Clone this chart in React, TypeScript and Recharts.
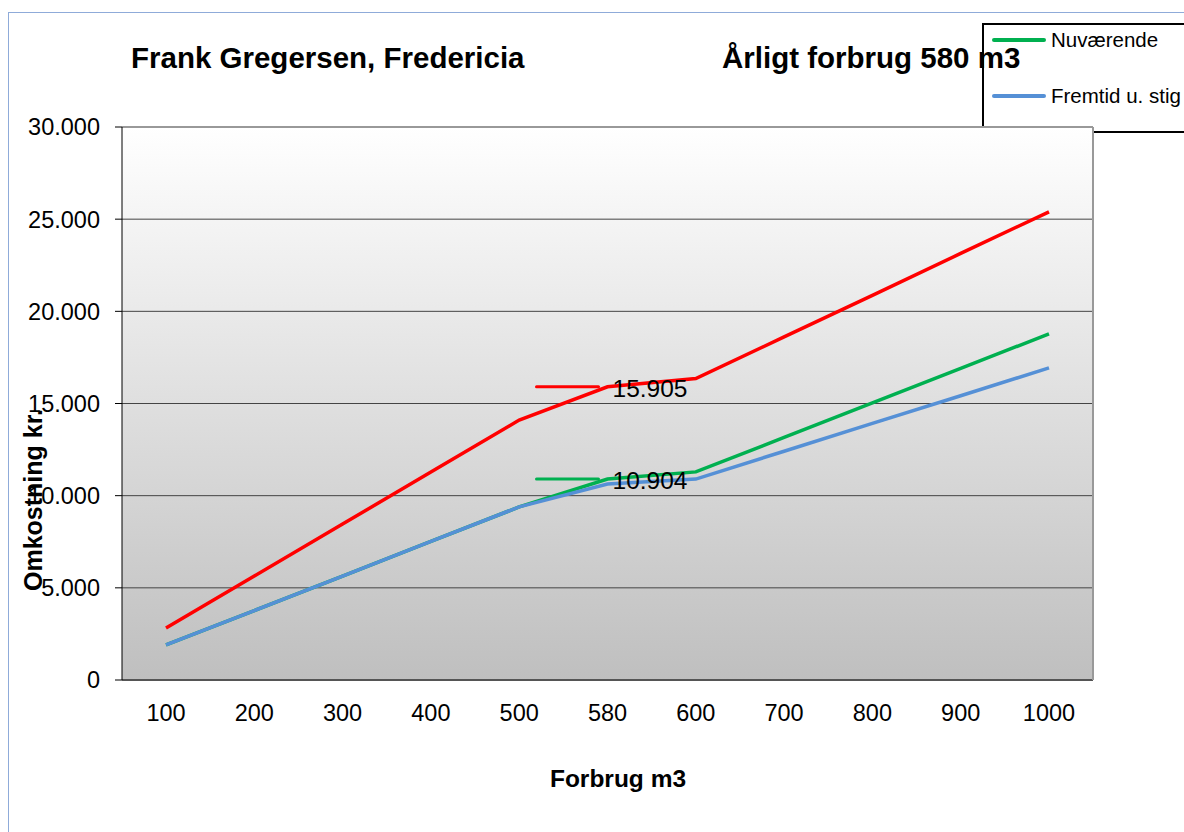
import { LineChart, Line, XAxis, YAxis, CartesianGrid, Legend } from 'recharts';

const CATEGORIES = ['100', '200', '300', '400', '500', '580', '600', '700', '800', '900', '1000'];
const FREMTID_M_STIG = [2820, 5640, 8460, 11280, 14100, 15905, 16350, 18610, 20870, 23140, 25400];
const NUVAERENDE = [1900, 3770, 5640, 7520, 9390, 10904, 11290, 13160, 15030, 16900, 18780];
const FREMTID_U_STIG = [1900, 3770, 5640, 7520, 9390, 10630, 10900, 12410, 13920, 15420, 16930];
const MARK_RED = [null, null, null, null, null, 15905, null, null, null, null, null];
const MARK_GREEN = [null, null, null, null, null, 10904, null, null, null, null, null];
const Y_TICKS = [0, 5000, 10000, 15000, 20000, 25000, 30000];
const LEGEND_KEYS = ['green', 'blue'];

const data = CATEGORIES.map((c, i) => ({
  name: c,
  red: FREMTID_M_STIG[i],
  green: NUVAERENDE[i],
  blue: FREMTID_U_STIG[i],
  markRed: MARK_RED[i],
  markGreen: MARK_GREEN[i],
}));

const FONT = '"Liberation Sans", Arial, sans-serif';
const fmt = (v: number) => String(v).replace(/\B(?=(\d{3})+(?!\d))/g, '.');

// short dash left of the point with the value written to the right
const makeMark = (color: string) => (props: any) => {
  const { cx, cy, value, index } = props;
  if (cx == null || cy == null || value == null) return <g key={`m-${index}`} />;
  return (
    <g key={`m-${index}`}>
      <line x1={cx - 71} y1={cy} x2={cx - 9} y2={cy} stroke={color} strokeWidth={3} strokeLinecap="round" />
      <text x={cx + 5} y={cy + 10} fontSize={24.5} fontFamily={FONT} fill="#000">{fmt(value)}</text>
    </g>
  );
};

const LegendBox = (props: any) => {
  const items = LEGEND_KEYS
    .map((k) => (props.payload || []).find((p: any) => p.dataKey === k))
    .filter(Boolean);
  return (
    <div style={{ width: 240, height: 110, border: '2px solid #000', boxSizing: 'border-box', position: 'relative', fontFamily: FONT }}>
      {items.map((p: any, i: number) => (
        <div key={p.value} style={{ position: 'absolute', left: 8, top: 14 + i * 56, height: 2, display: 'flex', alignItems: 'center', whiteSpace: 'nowrap' }}>
          <span style={{ display: 'inline-block', width: 54, height: 3.5, background: p.color, borderRadius: 2, marginRight: 5 }} />
          <span style={{ fontSize: 20.5, color: '#000' }}>{p.value}</span>
        </div>
      ))}
    </div>
  );
};

export default function App() {
  return (
    <div style={{ position: 'absolute', left: 0, top: 0, width: 1184, height: 832, overflow: 'hidden' }}>
      <div style={{ position: 'absolute', left: 8, top: 12, width: 1176, height: 820, borderTop: '1px solid #8fabd9', borderLeft: '1px solid #8fabd9', boxSizing: 'border-box' }} />
      <LineChart width={1184} height={832} data={data} margin={{ top: 127, right: 89, bottom: 92, left: 22 }}>
        <defs>
          <linearGradient id="plotBg" x1="0" y1="0" x2="0" y2="1">
            <stop offset="0%" stopColor="#ffffff" />
            <stop offset="100%" stopColor="#bfbfbf" />
          </linearGradient>
        </defs>
        <CartesianGrid vertical={false} stroke="#444" fill="url(#plotBg)" fillOpacity={1} />
        <CartesianGrid vertical={false} horizontalValues={[30000]} stroke="#999" strokeWidth={2} />
        <XAxis
          dataKey="name"
          height={60}
          padding={{ left: 44, right: 44 }}
          axisLine={{ stroke: '#555', strokeWidth: 2 }}
          tickLine={false}
          tickSize={0}
          tickMargin={24}
          interval={0}
          tick={{ fontSize: 23.5, fontFamily: FONT, fill: '#000' }}
        />
        <YAxis
          width={100}
          domain={[0, 30000]}
          ticks={Y_TICKS}
          interval={0}
          tickFormatter={fmt}
          axisLine={{ stroke: '#000' }}
          tickLine={{ stroke: '#000' }}
          tickSize={7}
          tickMargin={15}
          tick={{ fontSize: 23.5, fontFamily: FONT, fill: '#000' }}
        />
        <YAxis
          yAxisId="right"
          orientation="right"
          width={2}
          domain={[0, 30000]}
          allowDataOverflow
          tick={false}
          tickLine={false}
          axisLine={{ stroke: '#999', strokeWidth: 2 }}
        />
        <Legend
          layout="vertical"
          align="center"
          verticalAlign="middle"
          content={LegendBox}
          wrapperStyle={{ position: 'absolute', left: 982, top: 23, width: 240, height: 110, zIndex: -1 }}
        />
        <Line dataKey="red" name="Fremtid m. stig" legendType="none" stroke="#ff0000" strokeWidth={3.5} dot={false} activeDot={false} isAnimationActive={false} />
        <Line dataKey="green" name="Nuværende" stroke="#00b050" strokeWidth={3.5} dot={false} activeDot={false} isAnimationActive={false} />
        <Line dataKey="blue" name="Fremtid u. stig" stroke="#5590d6" strokeWidth={3.5} dot={false} activeDot={false} isAnimationActive={false} />
        <Line yAxisId="right" dataKey="markRed" legendType="none" stroke="none" dot={makeMark('#ff0000')} activeDot={false} isAnimationActive={false} />
        <Line yAxisId="right" dataKey="markGreen" legendType="none" stroke="none" dot={makeMark('#00b050')} activeDot={false} isAnimationActive={false} />
        <text x={131} y={68} fontSize={29.5} fontWeight="bold" fontFamily={FONT} fill="#000">Frank Gregersen, Fredericia</text>
        <text x={722} y={68} fontSize={29.5} fontWeight="bold" fontFamily={FONT} fill="#000">Årligt forbrug 580 m3</text>
        <text transform="translate(42, 500) rotate(-90)" textAnchor="middle" fontSize={25} fontWeight="bold" fontFamily={FONT} fill="#000">Omkostning kr.</text>
        <text x={618} y={787} textAnchor="middle" fontSize={24.5} fontWeight="bold" fontFamily={FONT} fill="#000">Forbrug m3</text>
      </LineChart>
    </div>
  );
}
